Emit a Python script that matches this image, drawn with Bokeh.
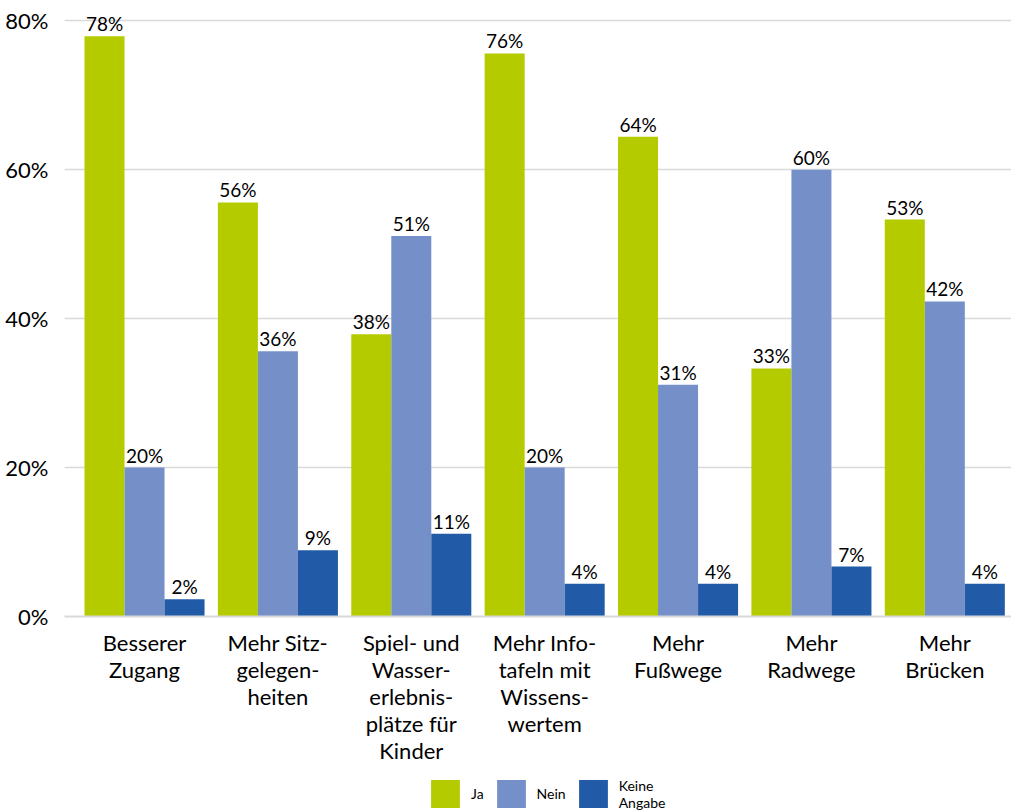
from bokeh.plotting import figure
from bokeh.layouts import column
from bokeh.models import ColumnDataSource, Range1d, FixedTicker, Legend, LegendItem
from bokeh.core.properties import value
from bokeh.embed import file_html
from bokeh.resources import INLINE

categories = [
    "Besserer\nZugang",
    "Mehr Sitz-\ngelegen-\nheiten",
    "Spiel- und\nWasser-\nerlebnis-\nplätze für\nKinder",
    "Mehr Info-\ntafeln mit\nWissens-\nwertem",
    "Mehr\nFußwege",
    "Mehr\nRadwege",
    "Mehr\nBrücken",
]
series_names = ["Ja", "Nein", "Keine\nAngabe"]
ja = [77.9, 55.6, 37.9, 75.6, 64.4, 33.3, 53.3]
nein = [20.0, 35.6, 51.1, 20.0, 31.1, 60.0, 42.3]
keine = [2.3, 8.9, 11.1, 4.4, 4.4, 6.7, 4.4]
colors = ["#b4cb00", "#7590c9", "#215aa6"]
y_ticks = [0, 20, 40, 60, 80]

FONT = "Lato"

p = figure(width=1011, height=776, output_backend="svg", toolbar_location=None,
           x_range=Range1d(-0.6, 6.5), y_range=Range1d(0, 81.5),
           min_border_left=64, min_border_right=0, min_border_top=9,
           min_border_bottom=160)
p.outline_line_color = None

bar_w = 0.3
offsets = [-bar_w, 0.0, bar_w]
for name, vals, col, off in zip(series_names, [ja, nein, keine], colors, offsets):
    xs = [i + off for i in range(len(categories))]
    src = ColumnDataSource(dict(x=xs, top=vals,
                                lab=[f"{round(v)}%" for v in vals]))
    p.vbar(x="x", top="top", width=bar_w, source=src, fill_color=col,
           line_color=None)
    p.text(x="x", y="top", text="lab", source=src, text_align="center",
           text_baseline="bottom", y_offset=-1, text_font=value(FONT),
           text_font_size="19px", text_color="#000000")

# axes
p.yaxis.ticker = FixedTicker(ticks=y_ticks)
p.yaxis.major_label_overrides = {t: f"{t}%" for t in y_ticks}
p.yaxis.axis_line_color = None
p.yaxis.major_tick_line_color = None
p.yaxis.minor_tick_line_color = None
p.yaxis.major_label_standoff = 10
p.yaxis.major_label_text_font = FONT
p.yaxis.major_label_text_font_size = "22px"
p.yaxis.major_label_text_color = "#000000"

p.xaxis.ticker = FixedTicker(ticks=list(range(len(categories))))
p.xaxis.major_label_overrides = {i: c for i, c in enumerate(categories)}
p.xaxis.axis_line_color = "#d9d9d9"
p.xaxis.axis_line_width = 2
p.xaxis.major_tick_line_color = None
p.xaxis.minor_tick_line_color = None
p.xaxis.major_label_standoff = 6
p.xaxis.major_label_text_font = FONT
p.xaxis.major_label_text_font_size = "22px"
p.xaxis.major_label_text_line_height = 1.0
p.xaxis.major_label_text_color = "#000000"

p.xgrid.grid_line_color = None
p.ygrid.ticker = FixedTicker(ticks=y_ticks)
p.ygrid.grid_line_color = "#d9d9d9"
p.ygrid.grid_line_width = 1.5

# legend strip (legend swatches only; its bars sit outside the visible range)
lg = figure(width=1011, height=35, output_backend="svg", toolbar_location=None,
            x_axis_type=None, y_axis_type=None,
            x_range=Range1d(0, 1), y_range=Range1d(0, 1),
            min_border_left=64, min_border_right=0, min_border_top=0,
            min_border_bottom=0)
lg.outline_line_color = None
lg.xgrid.grid_line_color = None
lg.ygrid.grid_line_color = None
items = []
for name, col in zip(series_names, colors):
    r = lg.vbar(x=[5], top=[1], width=0.1, fill_color=col, line_color=None)
    items.append(LegendItem(label=name, renderers=[r]))

legend = Legend(items=items, orientation="horizontal", location=(363, 0),
                glyph_width=36, glyph_height=35, label_height=35, label_width=0,
                label_standoff=8, spacing=9, padding=0, margin=0,
                border_line_color=None, background_fill_alpha=0,
                label_text_font=FONT, label_text_font_size="14px",
                label_text_line_height=1.0,
                label_text_color="#000000")
lg.add_layout(legend, "center")

layout = column(p, lg, spacing=0)
open("out.html", "w").write(file_html(layout, INLINE))
